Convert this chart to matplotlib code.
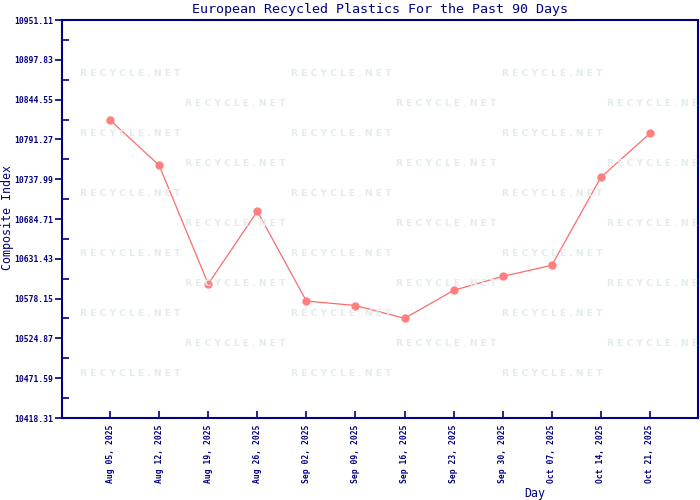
import numpy as np
import matplotlib
matplotlib.use("Agg")
import matplotlib.pyplot as plt
import matplotlib.dates as mdates
from datetime import date, timedelta

days = ["2025-08-05", "2025-08-12", "2025-08-19", "2025-08-26", "2025-09-02", "2025-09-09",
        "2025-09-16", "2025-09-23", "2025-09-30", "2025-10-07", "2025-10-14", "2025-10-21"]
index = [10817.2, 10756.6, 10597.7, 10695.0, 10574.9, 10568.9,
         10551.7, 10589.2, 10607.9, 10622.7, 10740.5, 10799.4]
y_ticks = [10418.31, 10471.59, 10524.87, 10578.15, 10631.43, 10684.71,
           10737.99, 10791.27, 10844.55, 10897.83, 10951.11]

navy = "#000080"
mono = "DejaVu Sans Mono"

x = [mdates.date2num(date.fromisoformat(d)) for d in days]

fig = plt.figure(figsize=(7, 5), dpi=100)
ax = fig.add_axes([62 / 700, 82 / 500, 636 / 700, 398 / 500])

# watermark grid
for r in range(11):
    yy = 1 - (73 + 30 * r) / 500
    cols = [130, 341, 552] if r % 2 == 0 else [235, 446, 657]
    for cx in cols:
        t = fig.text(cx / 700, yy, "R E C Y C L E . N E T", color="#e2edea", fontsize=6.6,
                     fontweight="bold", family="DejaVu Sans", ha="center", va="center",
                     zorder=0)
        if cx + 48 > 698:
            t.set_clip_on(True)
            t.set_clip_box(ax.bbox)

ax.set_facecolor("none")
ax.plot(x, index, color="#ff6b6b", linewidth=0.9, marker="o", markersize=5,
        markerfacecolor="#ff7f7f", markeredgecolor="#ff7f7f", zorder=3)

ax.set_xlim(x[0] - 6.85, x[-1] + 6.85)
ax.set_ylim(y_ticks[0], y_ticks[-1])

ax.set_yticks(y_ticks)
ax.set_yticklabels(["%.2f" % v for v in y_ticks])
ax.set_yticks([(a + b) / 2 for a, b in zip(y_ticks[:-1], y_ticks[1:])], minor=True)
ax.set_xticks(x)
ax.set_xticklabels([date.fromisoformat(d).strftime("%b %d, %Y") for d in days], rotation=90)

ax.tick_params(axis="y", which="major", direction="out", length=5, width=1.2, color=navy,
               labelcolor=navy, labelsize=5.8, pad=1)
ax.tick_params(axis="y", which="minor", direction="in", length=5, width=1.2, color=navy)
ax.tick_params(axis="x", which="major", direction="in", length=5, width=1.2, color=navy,
               labelcolor=navy, labelsize=5.8, pad=5)
for lab in ax.get_xticklabels() + ax.get_yticklabels():
    lab.set_family(mono)
    lab.set_fontweight("bold")

for s in ax.spines.values():
    s.set_color(navy)
    s.set_linewidth(1.5)

fig.text(380 / 700, 1 - 9 / 500, "European Recycled Plastics For the Past 90 Days",
         color=navy, fontsize=9.6, family=mono, ha="center", va="center")
fig.text(8 / 700, 1 - 218 / 500, "Composite Index", color=navy, fontsize=8.4,
         family=mono, rotation=90, ha="center", va="center")
fig.text(535 / 700, 1 - 494 / 500, "Day", color=navy, fontsize=8.4, family=mono,
         ha="center", va="center")

fig.savefig("out.png", dpi=100)
